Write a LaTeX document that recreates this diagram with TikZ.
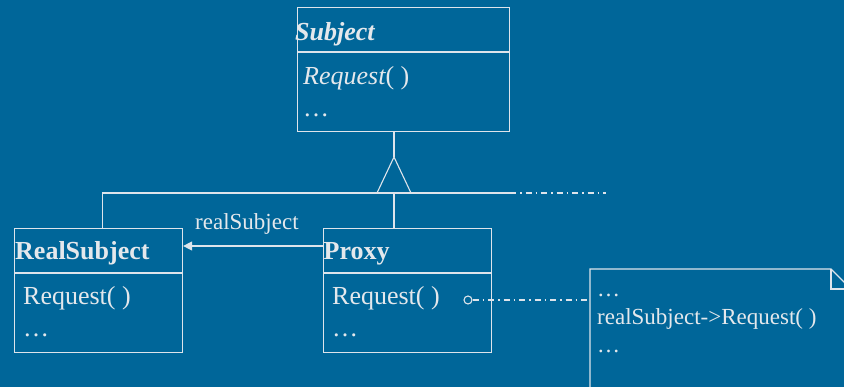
\documentclass[tikz,border=0pt]{standalone}
\usepackage{fontspec}
\setmainfont{Liberation Serif}
\usetikzlibrary{arrows.meta}
\definecolor{bg}{RGB}{0,102,153}
\definecolor{ln}{RGB}{222,228,235}
\definecolor{tx}{RGB}{228,232,236}
\tikzset{
  umlbox/.style={draw=ln, line width=1.1pt, rectangle, anchor=north west, inner sep=0pt},
  big/.style={text=tx, anchor=base west, inner sep=0pt, font=\fontsize{26}{30}\selectfont},
  small/.style={text=tx, anchor=base west, inner sep=0pt, font=\fontsize{23}{27}\selectfont},
  wire/.style={draw=ln, line width=1.1pt},
  dashdot/.style={wire, dash pattern=on 6pt off 4pt on 1.5pt off 4pt},
}
\begin{document}
\begin{tikzpicture}[x=1pt,y=-1pt]
\fill[bg] (0,0) rectangle (844,387);
\useasboundingbox (0,0) rectangle (844,387);
% Subject
\node[umlbox, minimum width=212pt, minimum height=124pt] (subj) at (297,7) {};
\draw[wire] (297,52) -- (509,52);
\node[big, font=\fontsize{26}{30}\selectfont\bfseries\itshape] (subjt) at (295,41) {Subject};
\node[big, font=\fontsize{26}{30}\selectfont\itshape] (subjr) at (303,85) {Request\upshape( )};
\node[big] (subjd) at (303,117) {…};
% RealSubject
\node[umlbox, minimum width=168pt, minimum height=124pt] (real) at (14,228) {};
\draw[wire] (14,273) -- (182,273);
\node[big, font=\fontsize{26}{30}\selectfont\bfseries] (realt) at (15,260) {RealSubject};
\node[big] (realr) at (23,305) {Request( )};
\node[big] (reald) at (23,337) {…};
% Proxy
\node[umlbox, minimum width=168pt, minimum height=124pt] (proxy) at (323,228) {};
\draw[wire] (323,273) -- (491,273);
\node[big, font=\fontsize{26}{30}\selectfont\bfseries] (proxyt) at (323.5,260) {Proxy};
\node[big] (proxyr) at (332,305) {Request( )};
\node[big] (proxyd) at (332,337) {…};
% inheritance
\coordinate (apex) at (394,157);
\coordinate (bl) at (377,193);
\coordinate (br) at (411,193);
\coordinate (bm) at (394,193);
\coordinate (lt) at (102.5,193);
\coordinate (rs) at (510,193);
\coordinate (re) at (606,193);
\draw[wire] (subj.south -| apex) -- (apex);
\draw[wire] (apex) -- (bl) -- (br) -- cycle;
\draw[wire] (real.north -| lt) -- (lt) -- (rs);
\draw[dashdot] (rs) -- (re);
\draw[wire] (bm) -- (proxy.north -| bm);
% association
\draw[wire, -{Triangle[length=9pt,width=9pt]}] (proxy.west |- 0,246) -- (real.east |- 0,246);
\node[small] (lbl) at (195,230) {realSubject};
% note
\node[draw=ln, line width=1.1pt, circle, minimum size=8pt, inner sep=0pt] (dot) at (468,300) {};
\coordinate (nl) at (590,300);
\draw[dashdot] (dot.east) -- (nl);
\begin{scope}
\clip (0,0) rectangle (844,387);
\draw[wire] (590,400) -- (590,269) -- (831,269) -- (851,289);
\draw[wire] (831,269) -- (831,289) -- (851,289);
\end{scope}
\node[small] (n1) at (597,297) {…};
\node[small] (n2) at (597,325) {realSubject->Request( )};
\node[small] (n3) at (597,353) {…};
\end{tikzpicture}
\end{document}
